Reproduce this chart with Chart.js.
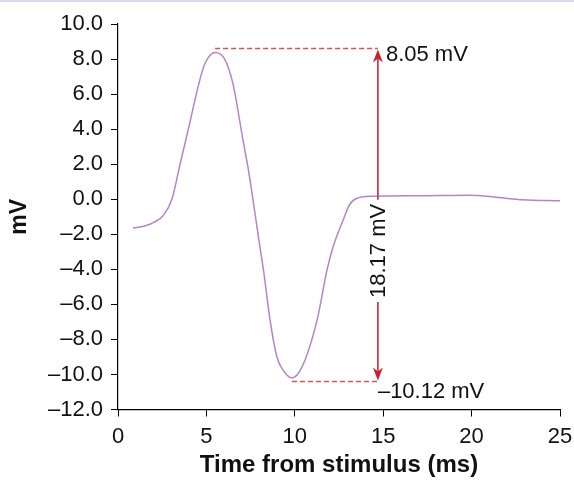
<!DOCTYPE html>
<html>
<head>
<meta charset="utf-8">
<script src="https://cdn.jsdelivr.net/npm/chart.js@4/dist/chart.umd.min.js"></script>
<style>
  html, body { margin: 0; padding: 0; background: #ffffff; }
  #wrap { position: relative; width: 574px; height: 484px; }
  #band { position: absolute; left: 0; top: 0; width: 574px; height: 2px; background: #e2d6ee; }
  canvas { position: absolute; left: 0; top: 0; }
</style>
</head>
<body>
<div id="wrap">
  <canvas id="c" width="574" height="484"></canvas>
  <div id="band"></div>
</div>
<script>
// ---- data ----
const times = [0.85, 1.5, 2.0, 2.55, 3.05, 3.5, 4.07, 4.55, 4.9, 5.49, 6.0, 6.5, 7.07, 7.35, 7.64, 7.97, 8.25, 8.6, 8.99, 9.33, 9.84, 10.41, 11.26, 11.82, 12.16, 12.73, 13.1, 13.52, 14.42, 17.0, 19.9, 21.5, 22.9, 25.0];
const millivolts = [-1.65, -1.53, -1.33, -0.94, 0.0, 1.95, 4.4, 6.5, 7.7, 8.38, 8.05, 6.6, 3.37, 1.83, -0.06, -2.34, -4.2, -6.9, -9.0, -9.74, -10.2, -9.57, -6.9, -4.05, -2.74, -1.2, -0.3, 0.06, 0.17, 0.2, 0.23, 0.1, -0.03, -0.09];

const xTicks = [0, 5, 10, 15, 20, 25];
const yTicks = [-12, -10, -8, -6, -4, -2, 0, 2, 4, 6, 8, 10];

// annotation (measurement arrow) values
const peakStartTime = 5.49;
const troughStartTime = 9.84;
const arrowTime = 14.7;
const peakLevel = 8.6;
const troughLevel = -10.4;
const arrowLabelLevel = -2.95;
const peakLabel = '8.05 mV';
const troughLabel = '\u201310.12 mV';
const spanLabel = '18.17 mV';

const FONT = "Arial, 'Liberation Sans', sans-serif";

const annotationPlugin = {
  id: 'measure',
  afterDatasetsDraw(chart) {
    const ctx = chart.ctx;
    const xs = chart.scales.x, ys = chart.scales.y;
    const ax = xs.getPixelForValue(arrowTime);
    const yTop = ys.getPixelForValue(peakLevel);
    const yBot = ys.getPixelForValue(troughLevel);
    const yMid = ys.getPixelForValue(arrowLabelLevel);
    ctx.save();
    // dashed level lines
    ctx.strokeStyle = '#d9534f';
    ctx.lineWidth = 1.5;
    ctx.setLineDash([5, 3]);
    ctx.beginPath();
    ctx.moveTo(xs.getPixelForValue(peakStartTime), yTop);
    ctx.lineTo(ax, yTop);
    ctx.moveTo(xs.getPixelForValue(troughStartTime), yBot);
    ctx.lineTo(ax, yBot);
    ctx.stroke();
    ctx.setLineDash([]);

    // span label geometry
    ctx.font = '22px ' + FONT;
    const tw = ctx.measureText(spanLabel).width;
    const gap = 4;
    // arrow shaft
    ctx.strokeStyle = '#d0404c';
    ctx.lineWidth = 1.8;
    ctx.beginPath();
    ctx.moveTo(ax, yTop + 10);
    ctx.lineTo(ax, yMid - tw / 2 - gap);
    ctx.moveTo(ax, yMid + tw / 2 + gap);
    ctx.lineTo(ax, yBot - 10);
    ctx.stroke();
    // arrow heads
    ctx.fillStyle = '#c8202e';
    const hw = 5, hl = 14;
    ctx.beginPath();
    ctx.moveTo(ax, yTop + 1);
    ctx.lineTo(ax - hw, yTop + hl);
    ctx.lineTo(ax, yTop + hl - 4);
    ctx.lineTo(ax + hw, yTop + hl);
    ctx.closePath();
    ctx.fill();
    ctx.beginPath();
    ctx.moveTo(ax, yBot - 1);
    ctx.lineTo(ax - hw, yBot - hl);
    ctx.lineTo(ax, yBot - hl + 4);
    ctx.lineTo(ax + hw, yBot - hl);
    ctx.closePath();
    ctx.fill();

    // texts
    ctx.fillStyle = '#111111';
    ctx.font = '22px ' + FONT;
    ctx.textBaseline = 'middle';
    ctx.textAlign = 'left';
    ctx.fillText(peakLabel, ax + 8, yTop + 6);
    ctx.fillText(troughLabel, ax, yBot + 10);
    ctx.save();
    ctx.translate(ax, yMid);
    ctx.rotate(-Math.PI / 2);
    ctx.textAlign = 'center';
    ctx.fillText(spanLabel, 0, 1);
    ctx.restore();
    ctx.restore();
  }
};

const fmt = v => {
  const s = Math.abs(v).toFixed(1);
  return v < 0 ? '\u2013' + s : s;
};

new Chart(document.getElementById('c'), {
  type: 'line',
  data: {
    datasets: [{
      data: times.map((t, i) => ({ x: t, y: millivolts[i] })),
      borderColor: '#b285c8',
      borderWidth: 1.5,
      pointRadius: 0,
      fill: false,
      cubicInterpolationMode: 'monotone'
    }]
  },
  options: {
    responsive: false,
    devicePixelRatio: 1,
    animation: false,
    layout: { padding: { top: 24, right: 14, left: 0, bottom: 0 } },
    plugins: { legend: { display: false }, tooltip: { enabled: false } },
    scales: {
      x: {
        type: 'linear',
        min: 0, max: 25,
        afterBuildTicks: s => { s.ticks = xTicks.map(v => ({ value: v })); },
        afterFit: s => { s.height = 74.5; s.paddingRight = 0; s.paddingLeft = 0; },
        grid: { drawOnChartArea: false, drawTicks: true, tickLength: 7, color: '#000', tickColor: '#000' },
        border: { display: true, color: '#000', width: 1.2 },
        ticks: { color: '#111', font: { family: FONT, size: 22 }, padding: 7, maxRotation: 0, callback: v => String(v) },
        title: { display: true, text: 'Time from stimulus (ms)', color: '#111', font: { family: FONT, size: 24, weight: 'bold' }, padding: { top: 0, bottom: 4 } }
      },
      y: {
        min: -12, max: 10,
        afterBuildTicks: s => { s.ticks = yTicks.map(v => ({ value: v })); },
        afterFit: s => { s.width = 118; s.paddingTop = 0; s.paddingBottom = 0; },
        grid: { drawOnChartArea: false, drawTicks: true, tickLength: 7, color: '#000', tickColor: '#000' },
        border: { display: true, color: '#000', width: 1.2 },
        ticks: { color: '#111', font: { family: FONT, size: 22 }, padding: 8, callback: v => fmt(v) },
        title: { display: true, text: 'mV', color: '#111', font: { family: FONT, size: 23, weight: 'bold' }, padding: { top: 6, bottom: 0 } }
      }
    }
  },
  plugins: [annotationPlugin]
});
</script>
</body>
</html>
